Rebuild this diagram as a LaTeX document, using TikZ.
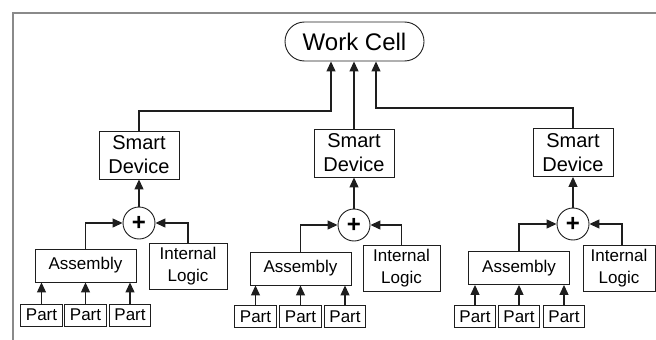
\documentclass[tikz,border=0pt]{standalone}
\usepackage{fontspec}
\setmainfont{Liberation Sans}
\usetikzlibrary{arrows.meta}
\definecolor{ink}{HTML}{1E1E1E}
\definecolor{framegray}{HTML}{8A8A8A}
\tikzset{
  box/.style={draw=ink, line width=0.9pt, inner sep=0pt, align=center},
  devbox/.style={box, minimum width=80pt, minimum height=48pt,
    font=\fontsize{20}{24}\selectfont},
  asmbox/.style={box, minimum width=101pt, minimum height=33pt,
    font=\fontsize{17}{20}\selectfont},
  logicbox/.style={box, minimum height=46pt,
    font=\fontsize{17}{22}\selectfont},
  partbox/.style={box, minimum width=41.5pt, minimum height=22pt,
    font=\fontsize{17}{20}\selectfont},
  sumnode/.style={circle, draw=ink, line width=0.9pt, minimum size=32pt,
    inner sep=0pt, font=\fontsize{24}{24}\selectfont\bfseries},
  cellbox/.style={box, rounded corners=19.5pt, minimum width=139pt,
    minimum height=39pt, font=\fontsize{24}{26}\selectfont},
  arr/.style={draw=ink, line width=1.2pt,
    -{Triangle[length=10pt,width=9pt]}},
  frameline/.style={draw=framegray, line width=1.5pt}
}
\begin{document}
\begin{tikzpicture}[x=1pt, y=-1pt]
\useasboundingbox (0,0) rectangle (656,340);
% open frame: top and left edges only
\draw[frameline] (656,13) -- (13,13) -- (13,340);

% top level
\node[cellbox] (wc) at (354.5,41.5) {Work Cell};

% left block
\node[devbox] (sd1) at (139,155) {Smart\\Device};
\node[sumnode] (p1) at (139,223) {+};
\node[asmbox] (asm1) at (85.5,265.5) {Assembly};
\node[logicbox, minimum width=78pt] (il1) at (188,266) {Internal\\Logic};
\node[partbox] (pa1) at (41.5,315) {Part};
\node[partbox] (pb1) at (85.5,315) {Part};
\node[partbox] (pc1) at (130,315) {Part};

% middle block
\node[devbox] (sd2) at (354,153) {Smart\\Device};
\node[sumnode] (p2) at (354,225) {+};
\node[asmbox] (asm2) at (300.5,268.5) {Assembly};
\node[logicbox, minimum width=77pt] (il2) at (401.5,268.5) {Internal\\Logic};
\node[partbox] (pa2) at (255.5,316.5) {Part};
\node[partbox] (pb2) at (300.5,316.5) {Part};
\node[partbox] (pc2) at (345,316.5) {Part};

% right block
\node[devbox] (sd3) at (573,152.5) {Smart\\Device};
\node[sumnode] (p3) at (573,224) {+};
\node[asmbox] (asm3) at (519,268) {Assembly};
\node[logicbox, minimum width=72pt] (il3) at (619,268) {Internal\\Logic};
\node[partbox] (pa3) at (475,316.5) {Part};
\node[partbox] (pb3) at (519,316.5) {Part};
\node[partbox] (pc3) at (564,316.5) {Part};

% devices feed the work cell
\coordinate (j1) at (331,111);
\coordinate (j3) at (376,108);
\draw[arr] (sd1.north) |- (j1) -- (wc.south -| j1);
\draw[arr] (sd2.north) -- (sd2.north |- wc.south);
\draw[arr] (sd3.north) |- (j3) -- (wc.south -| j3);

% assembly and logic combine into each device
\foreach \i in {1,2,3}{
  \draw[arr] (p\i) -- (sd\i);
  \draw[arr] (asm\i.north) |- (p\i.west);
  \draw[arr] (pa\i.north) -- (pa\i.north |- asm\i.south);
  \draw[arr] (pb\i.north) -- (pb\i.north |- asm\i.south);
  \draw[arr] (pc\i.north) -- (pc\i.north |- asm\i.south);
}
\draw[arr] (il1.north) |- (p1.east);
\draw[arr] (il2.north) |- (p2.east);
\draw[arr] ([xshift=3pt]il3.north) |- (p3.east);
\end{tikzpicture}
\end{document}
